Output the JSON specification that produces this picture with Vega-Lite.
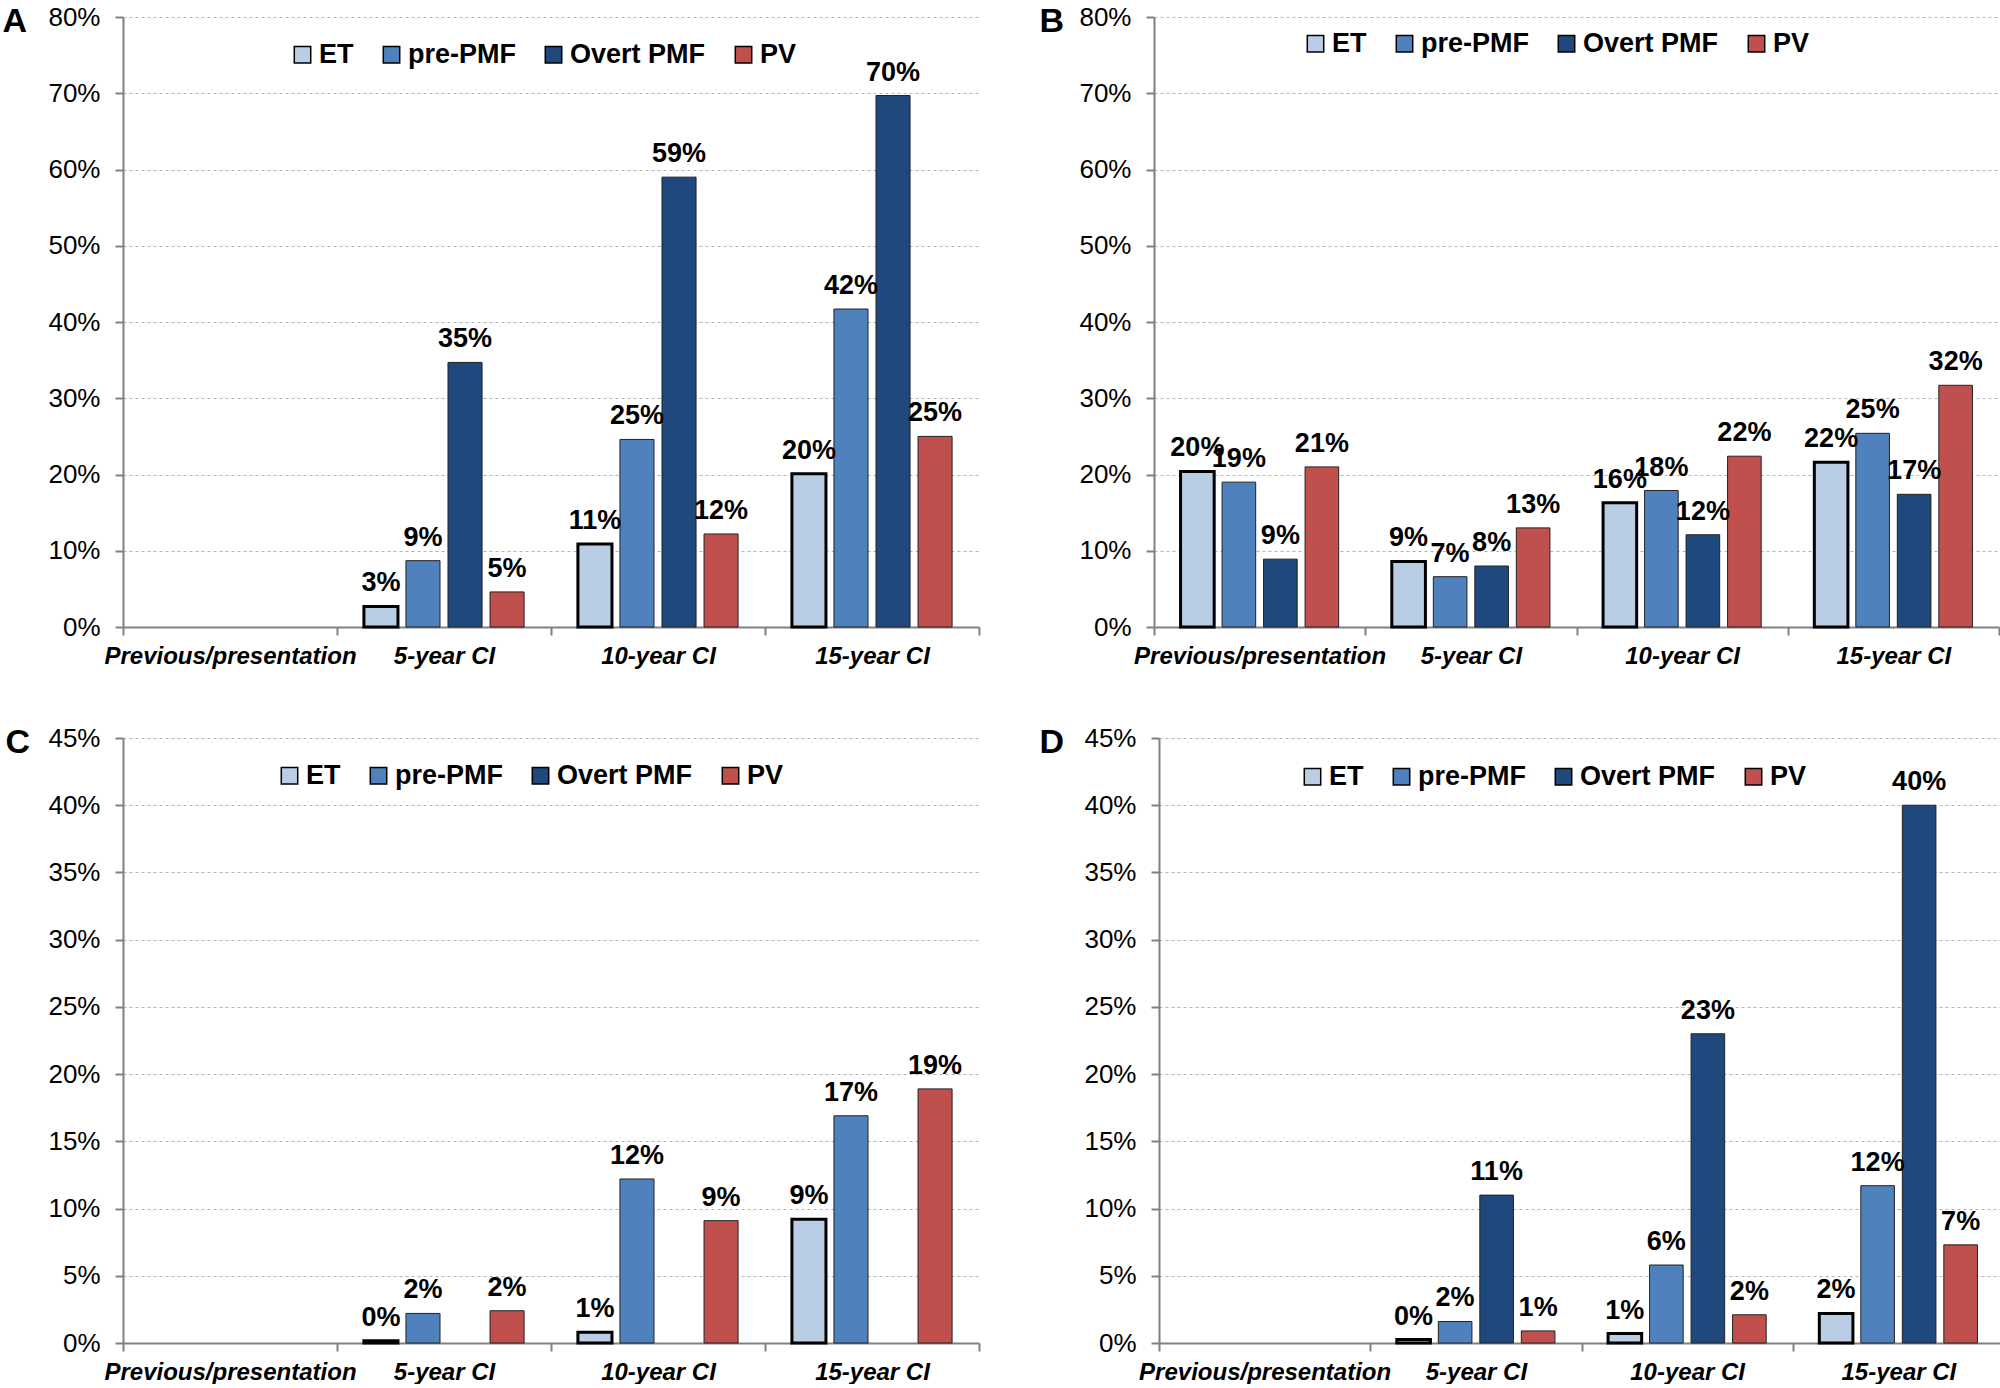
{
  "$schema": "https://vega.github.io/schema/vega-lite/v6.json",
  "padding": {"left": 2, "top": 4, "right": 0, "bottom": 0},
  "background": "white",
  "config": {"view": {"stroke": null}, "font": "Liberation Sans"},
  "datasets": {
    "rates": [
      {"panel": "A", "period": "5-year CI", "series": "ET", "rate": 0.027},
      {"panel": "A", "period": "5-year CI", "series": "pre-PMF", "rate": 0.087},
      {"panel": "A", "period": "5-year CI", "series": "Overt PMF", "rate": 0.347},
      {"panel": "A", "period": "5-year CI", "series": "PV", "rate": 0.046},
      {"panel": "A", "period": "10-year CI", "series": "ET", "rate": 0.109},
      {"panel": "A", "period": "10-year CI", "series": "pre-PMF", "rate": 0.246},
      {"panel": "A", "period": "10-year CI", "series": "Overt PMF", "rate": 0.590},
      {"panel": "A", "period": "10-year CI", "series": "PV", "rate": 0.122},
      {"panel": "A", "period": "15-year CI", "series": "ET", "rate": 0.201},
      {"panel": "A", "period": "15-year CI", "series": "pre-PMF", "rate": 0.417},
      {"panel": "A", "period": "15-year CI", "series": "Overt PMF", "rate": 0.697},
      {"panel": "A", "period": "15-year CI", "series": "PV", "rate": 0.250},
      {"panel": "B", "period": "Previous/presentation", "series": "ET", "rate": 0.204},
      {"panel": "B", "period": "Previous/presentation", "series": "pre-PMF", "rate": 0.190},
      {"panel": "B", "period": "Previous/presentation", "series": "Overt PMF", "rate": 0.089},
      {"panel": "B", "period": "Previous/presentation", "series": "PV", "rate": 0.210},
      {"panel": "B", "period": "5-year CI", "series": "ET", "rate": 0.086},
      {"panel": "B", "period": "5-year CI", "series": "pre-PMF", "rate": 0.066},
      {"panel": "B", "period": "5-year CI", "series": "Overt PMF", "rate": 0.080},
      {"panel": "B", "period": "5-year CI", "series": "PV", "rate": 0.130},
      {"panel": "B", "period": "10-year CI", "series": "ET", "rate": 0.163},
      {"panel": "B", "period": "10-year CI", "series": "pre-PMF", "rate": 0.179},
      {"panel": "B", "period": "10-year CI", "series": "Overt PMF", "rate": 0.121},
      {"panel": "B", "period": "10-year CI", "series": "PV", "rate": 0.224},
      {"panel": "B", "period": "15-year CI", "series": "ET", "rate": 0.216},
      {"panel": "B", "period": "15-year CI", "series": "pre-PMF", "rate": 0.254},
      {"panel": "B", "period": "15-year CI", "series": "Overt PMF", "rate": 0.174},
      {"panel": "B", "period": "15-year CI", "series": "PV", "rate": 0.317},
      {"panel": "C", "period": "5-year CI", "series": "ET", "rate": 0.0016},
      {"panel": "C", "period": "5-year CI", "series": "pre-PMF", "rate": 0.022},
      {"panel": "C", "period": "5-year CI", "series": "PV", "rate": 0.024},
      {"panel": "C", "period": "10-year CI", "series": "ET", "rate": 0.008},
      {"panel": "C", "period": "10-year CI", "series": "pre-PMF", "rate": 0.122},
      {"panel": "C", "period": "10-year CI", "series": "PV", "rate": 0.091},
      {"panel": "C", "period": "15-year CI", "series": "ET", "rate": 0.092},
      {"panel": "C", "period": "15-year CI", "series": "pre-PMF", "rate": 0.169},
      {"panel": "C", "period": "15-year CI", "series": "PV", "rate": 0.189},
      {"panel": "D", "period": "5-year CI", "series": "ET", "rate": 0.0026},
      {"panel": "D", "period": "5-year CI", "series": "pre-PMF", "rate": 0.016},
      {"panel": "D", "period": "5-year CI", "series": "Overt PMF", "rate": 0.110},
      {"panel": "D", "period": "5-year CI", "series": "PV", "rate": 0.009},
      {"panel": "D", "period": "10-year CI", "series": "ET", "rate": 0.007},
      {"panel": "D", "period": "10-year CI", "series": "pre-PMF", "rate": 0.058},
      {"panel": "D", "period": "10-year CI", "series": "Overt PMF", "rate": 0.230},
      {"panel": "D", "period": "10-year CI", "series": "PV", "rate": 0.021},
      {"panel": "D", "period": "15-year CI", "series": "ET", "rate": 0.022},
      {"panel": "D", "period": "15-year CI", "series": "pre-PMF", "rate": 0.117},
      {"panel": "D", "period": "15-year CI", "series": "Overt PMF", "rate": 0.400},
      {"panel": "D", "period": "15-year CI", "series": "PV", "rate": 0.073}
    ]
  },
  "resolve": {"scale": {"x": "independent", "y": "independent", "xOffset": "independent", "fill": "independent"}, "legend": {"fill": "independent"}},
  "spacing": 57,
  "vconcat": [
    {
      "spacing": 59,
      "resolve": {"scale": {"x": "independent", "y": "independent", "xOffset": "independent", "fill": "independent"}, "legend": {"fill": "independent"}},
      "hconcat": [
        {
          "width": 856, "height": 610,
          "data": {"name": "rates"},
          "transform": [{"filter": "datum.panel === 'A'"}],
          "encoding": {
            "x": {"field": "period", "type": "nominal", "sort": ["Previous/presentation", "5-year CI", "10-year CI", "15-year CI"],
              "scale": {"domain": ["Previous/presentation", "5-year CI", "10-year CI", "15-year CI"], "paddingInner": 0, "paddingOuter": 0},
              "axis": {"title": null, "labelAngle": 0, "labelFont": "Liberation Sans", "labelFontSize": 24, "labelFontWeight": "bold", "labelFontStyle": "italic", "labelColor": "#000", "labelLimit": 400, "labelPadding": 9, "tickBand": "extent", "tickSize": 8, "tickColor": "#808080", "tickWidth": 2, "domainColor": "#808080", "domainWidth": 2, "grid": false}},
            "xOffset": {"field": "series", "type": "nominal", "scale": {"domain": ["ET", "pre-PMF", "Overt PMF", "PV"], "paddingInner": 0.19, "paddingOuter": 0.64}},
            "y": {"field": "rate", "type": "quantitative", "scale": {"domain": [0, 0.8], "nice": false},
              "axis": {"values": [0, 0.1, 0.2, 0.3, 0.4, 0.5, 0.6, 0.7, 0.8], "format": ".0%", "title": "A", "titleAngle": 0, "titleX": -121, "titleY": 4, "titleAlign": "left", "titleBaseline": "middle", "titleFontSize": 34, "titleFontWeight": "bold", "titleFont": "Liberation Sans", "titleColor": "#000", "labelFont": "Liberation Sans", "labelFontSize": 26, "labelColor": "#000", "labelPadding": 15, "tickSize": 8, "tickColor": "#808080", "tickWidth": 2, "domainColor": "#808080", "domainWidth": 2, "grid": true, "gridDash": [3, 3], "gridColor": "#b4b4b4", "gridWidth": 1}}
          },
          "layer": [
            {"mark": {"type": "bar"},
             "encoding": {
               "fill": {"field": "series", "type": "nominal", "scale": {"domain": ["ET", "pre-PMF", "Overt PMF", "PV"], "range": ["#B9CDE5", "#4F81BD", "#1F497D", "#C0504D"]},
                 "legend": {"orient": "none", "legendX": 166, "legendY": 24, "direction": "horizontal", "title": null, "padding": 0, "symbolType": "square", "symbolSize": 270, "symbolStrokeColor": "#000", "symbolStrokeWidth": 1.5, "labelFont": "Liberation Sans", "labelFontSize": 27, "labelFontWeight": "bold", "labelColor": "#000", "columnPadding": 24, "labelOffset": 3}},
               "stroke": {"condition": {"test": "datum.series === 'ET'", "value": "#000"}, "value": "#222"},
               "strokeWidth": {"condition": {"test": "datum.series === 'ET'", "value": 3}, "value": 1}
             }},
            {"mark": {"type": "text", "font": "Liberation Sans", "fontSize": 27, "fontWeight": "bold", "baseline": "alphabetic", "dy": -15, "fill": "#000"},
             "encoding": {"text": {"field": "rate", "type": "quantitative", "format": ".0%"}}}
          ]
        },
        {
          "width": 845, "height": 610,
          "data": {"name": "rates"},
          "transform": [{"filter": "datum.panel === 'B'"}],
          "encoding": {
            "x": {"field": "period", "type": "nominal", "sort": ["Previous/presentation", "5-year CI", "10-year CI", "15-year CI"],
              "scale": {"domain": ["Previous/presentation", "5-year CI", "10-year CI", "15-year CI"], "paddingInner": 0, "paddingOuter": 0},
              "axis": {"title": null, "labelAngle": 0, "labelFont": "Liberation Sans", "labelFontSize": 24, "labelFontWeight": "bold", "labelFontStyle": "italic", "labelColor": "#000", "labelLimit": 400, "labelPadding": 9, "tickBand": "extent", "tickSize": 8, "tickColor": "#808080", "tickWidth": 2, "domainColor": "#808080", "domainWidth": 2, "grid": false}},
            "xOffset": {"field": "series", "type": "nominal", "scale": {"domain": ["ET", "pre-PMF", "Overt PMF", "PV"], "paddingInner": 0.19, "paddingOuter": 0.64}},
            "y": {"field": "rate", "type": "quantitative", "scale": {"domain": [0, 0.8], "nice": false},
              "axis": {"values": [0, 0.1, 0.2, 0.3, 0.4, 0.5, 0.6, 0.7, 0.8], "format": ".0%", "title": "B", "titleAngle": 0, "titleX": -115, "titleY": 4, "titleAlign": "left", "titleBaseline": "middle", "titleFontSize": 34, "titleFontWeight": "bold", "titleFont": "Liberation Sans", "titleColor": "#000", "labelFont": "Liberation Sans", "labelFontSize": 26, "labelColor": "#000", "labelPadding": 15, "tickSize": 8, "tickColor": "#808080", "tickWidth": 2, "domainColor": "#808080", "domainWidth": 2, "grid": true, "gridDash": [3, 3], "gridColor": "#b4b4b4", "gridWidth": 1}}
          },
          "layer": [
            {"mark": {"type": "bar"},
             "encoding": {
               "fill": {"field": "series", "type": "nominal", "scale": {"domain": ["ET", "pre-PMF", "Overt PMF", "PV"], "range": ["#B9CDE5", "#4F81BD", "#1F497D", "#C0504D"]},
                 "legend": {"orient": "none", "legendX": 148, "legendY": 13, "direction": "horizontal", "title": null, "padding": 0, "symbolType": "square", "symbolSize": 270, "symbolStrokeColor": "#000", "symbolStrokeWidth": 1.5, "labelFont": "Liberation Sans", "labelFontSize": 27, "labelFontWeight": "bold", "labelColor": "#000", "columnPadding": 24, "labelOffset": 3}},
               "stroke": {"condition": {"test": "datum.series === 'ET'", "value": "#000"}, "value": "#222"},
               "strokeWidth": {"condition": {"test": "datum.series === 'ET'", "value": 3}, "value": 1}
             }},
            {"mark": {"type": "text", "font": "Liberation Sans", "fontSize": 27, "fontWeight": "bold", "baseline": "alphabetic", "dy": -15, "fill": "#000"},
             "encoding": {"text": {"field": "rate", "type": "quantitative", "format": ".0%"}}}
          ]
        }
      ]
    },
    {
      "spacing": 59,
      "resolve": {"scale": {"x": "independent", "y": "independent", "xOffset": "independent", "fill": "independent"}, "legend": {"fill": "independent"}},
      "hconcat": [
        {
          "width": 856, "height": 605,
          "data": {"name": "rates"},
          "transform": [{"filter": "datum.panel === 'C'"}],
          "encoding": {
            "x": {"field": "period", "type": "nominal", "sort": ["Previous/presentation", "5-year CI", "10-year CI", "15-year CI"],
              "scale": {"domain": ["Previous/presentation", "5-year CI", "10-year CI", "15-year CI"], "paddingInner": 0, "paddingOuter": 0},
              "axis": {"title": null, "labelAngle": 0, "labelFont": "Liberation Sans", "labelFontSize": 24, "labelFontWeight": "bold", "labelFontStyle": "italic", "labelColor": "#000", "labelLimit": 400, "labelPadding": 9, "tickBand": "extent", "tickSize": 8, "tickColor": "#808080", "tickWidth": 2, "domainColor": "#808080", "domainWidth": 2, "grid": false}},
            "xOffset": {"field": "series", "type": "nominal", "scale": {"domain": ["ET", "pre-PMF", "Overt PMF", "PV"], "paddingInner": 0.19, "paddingOuter": 0.64}},
            "y": {"field": "rate", "type": "quantitative", "scale": {"domain": [0, 0.45], "nice": false},
              "axis": {"values": [0, 0.05, 0.1, 0.15, 0.2, 0.25, 0.3, 0.35, 0.4, 0.45], "format": ".0%", "title": "C", "titleAngle": 0, "titleX": -118, "titleY": 4, "titleAlign": "left", "titleBaseline": "middle", "titleFontSize": 34, "titleFontWeight": "bold", "titleFont": "Liberation Sans", "titleColor": "#000", "labelFont": "Liberation Sans", "labelFontSize": 26, "labelColor": "#000", "labelPadding": 15, "tickSize": 8, "tickColor": "#808080", "tickWidth": 2, "domainColor": "#808080", "domainWidth": 2, "grid": true, "gridDash": [3, 3], "gridColor": "#b4b4b4", "gridWidth": 1}}
          },
          "layer": [
            {"mark": {"type": "bar"},
             "encoding": {
               "fill": {"field": "series", "type": "nominal", "scale": {"domain": ["ET", "pre-PMF", "Overt PMF", "PV"], "range": ["#B9CDE5", "#4F81BD", "#1F497D", "#C0504D"]},
                 "legend": {"orient": "none", "legendX": 153, "legendY": 24, "direction": "horizontal", "title": null, "padding": 0, "symbolType": "square", "symbolSize": 270, "symbolStrokeColor": "#000", "symbolStrokeWidth": 1.5, "labelFont": "Liberation Sans", "labelFontSize": 27, "labelFontWeight": "bold", "labelColor": "#000", "columnPadding": 24, "labelOffset": 3}},
               "stroke": {"condition": {"test": "datum.series === 'ET'", "value": "#000"}, "value": "#222"},
               "strokeWidth": {"condition": {"test": "datum.series === 'ET'", "value": 3}, "value": 1}
             }},
            {"mark": {"type": "text", "font": "Liberation Sans", "fontSize": 27, "fontWeight": "bold", "baseline": "alphabetic", "dy": -15, "fill": "#000"},
             "encoding": {"text": {"field": "rate", "type": "quantitative", "format": ".0%"}}}
          ]
        },
        {
          "width": 845, "height": 605,
          "data": {"name": "rates"},
          "transform": [{"filter": "datum.panel === 'D'"}],
          "encoding": {
            "x": {"field": "period", "type": "nominal", "sort": ["Previous/presentation", "5-year CI", "10-year CI", "15-year CI"],
              "scale": {"domain": ["Previous/presentation", "5-year CI", "10-year CI", "15-year CI"], "paddingInner": 0, "paddingOuter": 0},
              "axis": {"title": null, "labelAngle": 0, "labelFont": "Liberation Sans", "labelFontSize": 24, "labelFontWeight": "bold", "labelFontStyle": "italic", "labelColor": "#000", "labelLimit": 400, "labelPadding": 9, "tickBand": "extent", "tickSize": 8, "tickColor": "#808080", "tickWidth": 2, "domainColor": "#808080", "domainWidth": 2, "grid": false}},
            "xOffset": {"field": "series", "type": "nominal", "scale": {"domain": ["ET", "pre-PMF", "Overt PMF", "PV"], "paddingInner": 0.19, "paddingOuter": 0.64}},
            "y": {"field": "rate", "type": "quantitative", "scale": {"domain": [0, 0.45], "nice": false},
              "axis": {"values": [0, 0.05, 0.1, 0.15, 0.2, 0.25, 0.3, 0.35, 0.4, 0.45], "format": ".0%", "title": "D", "titleAngle": 0, "titleX": -120, "titleY": 4, "titleAlign": "left", "titleBaseline": "middle", "titleFontSize": 34, "titleFontWeight": "bold", "titleFont": "Liberation Sans", "titleColor": "#000", "labelFont": "Liberation Sans", "labelFontSize": 26, "labelColor": "#000", "labelPadding": 15, "tickSize": 8, "tickColor": "#808080", "tickWidth": 2, "domainColor": "#808080", "domainWidth": 2, "grid": true, "gridDash": [3, 3], "gridColor": "#b4b4b4", "gridWidth": 1}}
          },
          "layer": [
            {"mark": {"type": "bar"},
             "encoding": {
               "fill": {"field": "series", "type": "nominal", "scale": {"domain": ["ET", "pre-PMF", "Overt PMF", "PV"], "range": ["#B9CDE5", "#4F81BD", "#1F497D", "#C0504D"]},
                 "legend": {"orient": "none", "legendX": 140, "legendY": 25, "direction": "horizontal", "title": null, "padding": 0, "symbolType": "square", "symbolSize": 270, "symbolStrokeColor": "#000", "symbolStrokeWidth": 1.5, "labelFont": "Liberation Sans", "labelFontSize": 27, "labelFontWeight": "bold", "labelColor": "#000", "columnPadding": 24, "labelOffset": 3}},
               "stroke": {"condition": {"test": "datum.series === 'ET'", "value": "#000"}, "value": "#222"},
               "strokeWidth": {"condition": {"test": "datum.series === 'ET'", "value": 3}, "value": 1}
             }},
            {"mark": {"type": "text", "font": "Liberation Sans", "fontSize": 27, "fontWeight": "bold", "baseline": "alphabetic", "dy": -15, "fill": "#000"},
             "encoding": {"text": {"field": "rate", "type": "quantitative", "format": ".0%"}}}
          ]
        }
      ]
    }
  ]
}
